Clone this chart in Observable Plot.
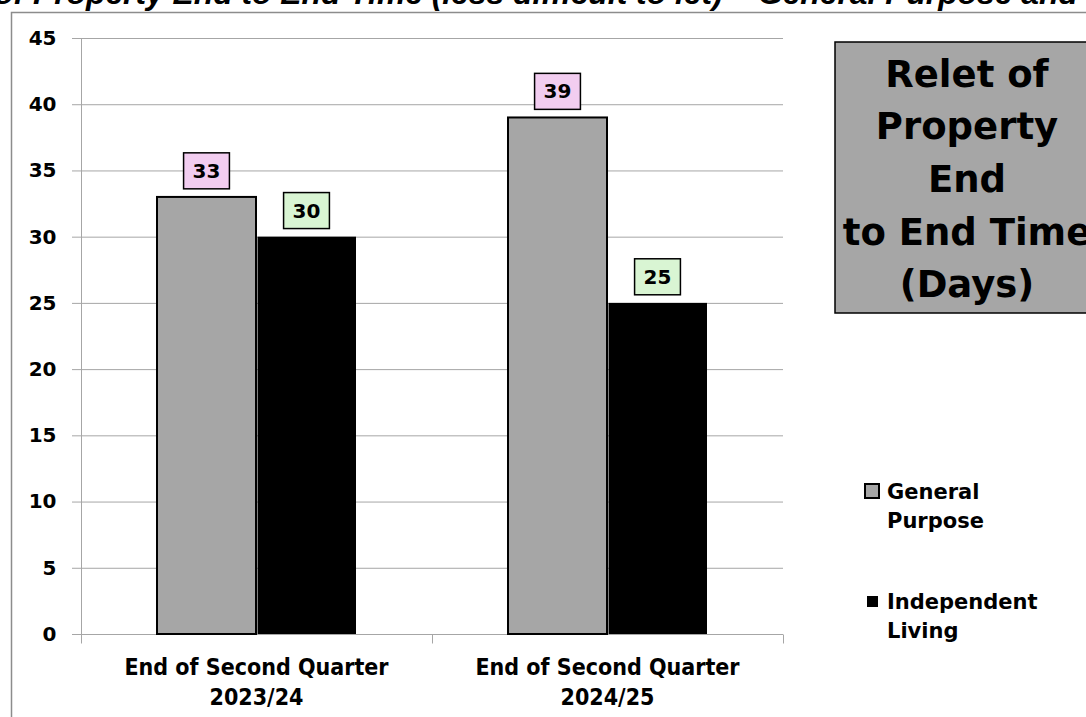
<!DOCTYPE html>
<html><head><meta charset="utf-8">
<script src="https://cdn.jsdelivr.net/npm/d3@7"></script>
<script src="https://cdn.jsdelivr.net/npm/@observablehq/plot@0.6"></script>
<style>
body{margin:0;background:#fff;}
#wrap{position:relative;width:1086px;height:717px;overflow:hidden;background:#fff;}
#wrap svg{position:absolute;left:0;top:0;}
</style>
</head><body>
<div id="wrap"></div>
<script>
// ---- data ----
const periods = ["End of Second Quarter 2023/24", "End of Second Quarter 2024/25"];
const periodLabels = ["End of Second Quarter\n2023/24", "End of Second Quarter\n2024/25"];
const seriesNames = ["General Purpose", "Independent Living"];
const generalPurpose = [33, 39];
const independentLiving = [30, 25];
const yTicks = [0, 5, 10, 15, 20, 25, 30, 35, 40, 45];
const chartTitle = "Relet of Property End to End Time (less difficult to let) \u2013 General Purpose and Independent Living";
const boxTitleLines = ["Relet of", "Property", "End", "to End Time", "(Days)"];
const legendLines = [["General", "Purpose"], ["Independent", "Living"]];

const gpData = periods.map((p, i) => ({period: p, series: seriesNames[0], value: generalPurpose[i]}));
const ilData = periods.map((p, i) => ({period: p, series: seriesNames[1], value: independentLiving[i]}));

const GRID = "#a6a6a6";
const BOLD = "'DejaVu Sans', sans-serif";

function tagged(cls) {
  return (index, scales, values, dims, context, next) => {
    const g = next(index, scales, values, dims, context);
    g.classList.add(cls);
    return g;
  };
}

// axis lines and category boundary ticks, derived from the scales
function axisFrame(index, scales, values, dims) {
  const x = scales.x, y = scales.y;
  const bw = typeof x.bandwidth === "function" ? x.bandwidth() : (x.bandwidth || 0);
  const centers = periods.map(p => x(p) + bw / 2);
  const left = dims.marginLeft, right = dims.width - dims.marginRight;
  const edges = [left, ...d3.pairs(centers, (a, b) => (a + b) / 2), right];
  const g = d3.create("svg:g").attr("stroke", GRID).attr("stroke-width", 1).attr("transform", "translate(0.5,0.5)");
  g.selectAll("line.e").data(edges).join("line").attr("class", "e")
    .attr("x1", d => Math.round(d)).attr("x2", d => Math.round(d))
    .attr("y1", Math.round(y(0))).attr("y2", Math.round(y(0)) + 9);
  g.append("line").attr("x1", left).attr("x2", left)
    .attr("y1", Math.round(y(45))).attr("y2", Math.round(y(0)));
  return g.node();
}

const chart = Plot.plot({
  width: 1086,
  height: 717,
  marginLeft: 81,
  marginRight: 303,
  marginTop: 38,
  marginBottom: 83,
  style: {background: "transparent", fontFamily: BOLD, overflow: "visible"},
  x: {domain: periods, paddingInner: 0.43, paddingOuter: 0.215, axis: null},
  y: {domain: [0, 45], axis: null},
  marks: [
    Plot.gridY(yTicks, {stroke: GRID, strokeOpacity: 1}),
    Plot.axisY(yTicks, {tickSize: 9, tickPadding: 16, stroke: GRID, strokeOpacity: 1, fill: "#000",
      fontSize: 20, fontWeight: "bold", label: null, tickFormat: d => String(d)}),
    Plot.ruleY([0], {stroke: GRID}),
    axisFrame,
    Plot.barY(gpData, {x: "period", y: "value", fill: "#a6a6a6", stroke: "#000", strokeWidth: 2, insetRight: 100, insetLeft: 1}),
    Plot.barY(ilData, {x: "period", y: "value", fill: "#000", insetLeft: 101.5}),
    Plot.text(gpData, {x: "period", y: "value", text: d => String(d.value), dx: -50, dy: -26,
      fontSize: 20, fontWeight: "bold", fill: "#000", render: tagged("vlabel-gp")}),
    Plot.text(ilData, {x: "period", y: "value", text: d => String(d.value), dx: 50, dy: -26,
      fontSize: 20, fontWeight: "bold", fill: "#000", render: tagged("vlabel-il")}),
    Plot.text(periods, {x: d => d, text: (d, i) => periodLabels[i], frameAnchor: "bottom", lineAnchor: "top",
      dy: 19, fontSize: 23, fontWeight: "bold", lineHeight: 1.3, fill: "#000",
      fontFamily: "'DejaVu Sans Condensed', 'DejaVu Sans', sans-serif", fontStretch: "condensed"})
  ]
});

const wrap = document.getElementById("wrap");

// overlay: outer frame, clipped title, title box, legend
const W = 1086, H = 717;
const ov = d3.create("svg").attr("width", W).attr("height", H).style("overflow", "visible");
ov.append("path").attr("d", `M11.5,${H} V12.5 H${W}`).attr("fill", "none").attr("stroke", "#8c8c8c").attr("stroke-width", 1.5);
const tfont = "'Liberation Sans', Arial, sans-serif";
const words = chartTitle.split(" ");
ov.append("text").attr("x", 24).attr("y", 4).attr("text-anchor", "end")
  .attr("font-family", tfont).attr("font-weight", "bold").attr("font-style", "italic").attr("font-size", 31.8)
  .text(words.slice(0, 2).join(" "));
ov.append("text").attr("x", 33).attr("y", 4)
  .attr("font-family", tfont).attr("font-weight", "bold").attr("font-style", "italic").attr("font-size", 31.8)
  .text(words.slice(2).join(" "));

// title box
ov.append("rect").attr("x", 835).attr("y", 42).attr("width", 264).attr("height", 271)
  .attr("fill", "#a6a6a6").attr("stroke", "#000").attr("stroke-width", 1.5);
const baselines = [87, 139, 192, 245, 297];
ov.append("g").attr("font-family", BOLD).attr("font-weight", "bold").attr("font-size", 37).attr("text-anchor", "middle")
  .selectAll("text").data(boxTitleLines).join("text")
  .attr("x", 967).attr("y", (d, i) => baselines[i]).text(d => d);

// legend
const lg = ov.append("g").attr("font-family", BOLD).attr("font-weight", "bold").attr("font-size", 21);
lg.append("rect").attr("x", 865).attr("y", 484).attr("width", 14).attr("height", 14)
  .attr("fill", "#a6a6a6").attr("stroke", "#000").attr("stroke-width", 2);
lg.append("rect").attr("x", 867).attr("y", 596).attr("width", 11).attr("height", 11).attr("fill", "#000");
const legendY = [491, 601];
legendLines.forEach((lines, k) => {
  lines.forEach((ln, j) => {
    lg.append("text").attr("x", 887).attr("y", legendY[k] + j * 29).attr("dy", "0.36em").text(ln);
  });
});

wrap.append(chart);
wrap.append(ov.node());

// boxes behind value labels
const ns = "http://www.w3.org/2000/svg";
[["vlabel-gp", "#f2cdf0"], ["vlabel-il", "#d9f5d3"]].forEach(([cls, col]) => {
  chart.querySelectorAll(`g.${cls} text`).forEach(t => {
    const b = t.getBBox();
    const r = document.createElementNS(ns, "rect");
    r.setAttribute("x", b.x - 9);
    r.setAttribute("y", b.y + b.height / 2 - 18);
    r.setAttribute("width", b.width + 18);
    r.setAttribute("height", 36);
    r.setAttribute("fill", col);
    r.setAttribute("stroke", "#000");
    r.setAttribute("stroke-width", 1.5);
    const tr = t.getAttribute("transform");
    if (tr) r.setAttribute("transform", tr);
    t.parentNode.insertBefore(r, t);
  });
});
</script>
</body></html>
